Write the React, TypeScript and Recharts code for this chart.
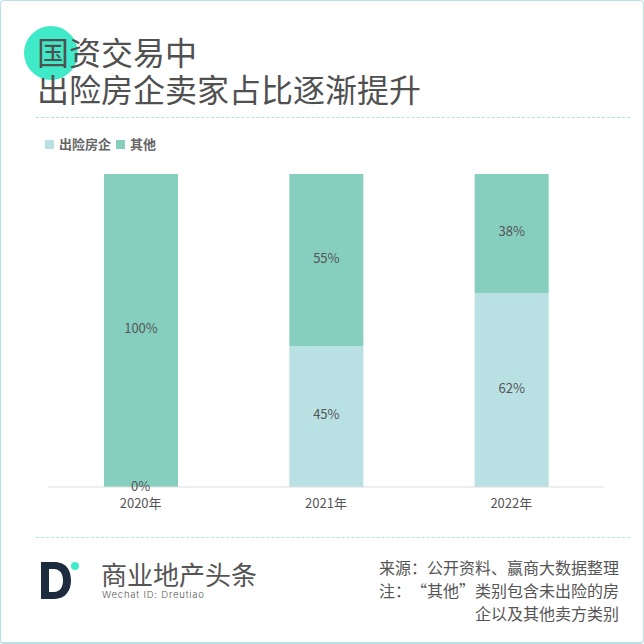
import { BarChart, Bar, XAxis, YAxis, Legend, LabelList, ReferenceDot } from 'recharts';

const years = ['2020年', '2021年', '2022年'];
const riskValues = [0, 45, 62];
const otherValues = [100, 55, 38];
const titleLines = ['国资交易中', '出险房企卖家占比逐渐提升'];
const noteLines = ['来源：公开资料、赢商大数据整理', '注：“其他”类别包含未出险的房', '企以及其他卖方类别'];

const data = years.map((year, i) => ({ year, risk: riskValues[i], other: otherValues[i] }));

const CJK = '"Noto Sans CJK SC", sans-serif';
const RISK_COLOR = '#b9e0e3';
const OTHER_COLOR = '#86cfbe';
const labelStyle = { fontSize: 13, fill: '#555', fontFamily: CJK };

function LegendRow({ payload }: any) {
  return (
    <div style={{ display: 'flex', alignItems: 'center', fontFamily: CJK, fontSize: 13, fontWeight: 700, color: '#666', lineHeight: '14px' }}>
      {(payload || []).map((p: any) => (
        <span key={p.value} style={{ display: 'flex', alignItems: 'center', marginRight: 5 }}>
          <span style={{ width: 9, height: 9, background: p.color, marginRight: 5 }} />
          {p.value}
        </span>
      ))}
    </div>
  );
}

function Dash({ top }: { top: number }) {
  return <div style={{ position: 'absolute', left: 36, width: 594, top, borderTop: '1px dashed #aee5df' }} />;
}

export default function App() {
  return (
    <div lang="zh-CN" style={{ position: 'absolute', left: 0, top: 0, width: 644, height: 644, background: '#fff', overflow: 'hidden', fontFamily: CJK }}>
      <div style={{ position: 'absolute', left: 0, top: 0, width: 644, height: 644, boxSizing: 'border-box', border: '1px solid #b8e2e4', borderBottomWidth: 2, borderRadius: 4 }} />
      <div style={{ position: 'absolute', left: 24, top: 26, width: 54, height: 54, borderRadius: '50%', background: '#40eac8' }} />
      <div style={{ position: 'absolute', left: 37, top: 33, fontSize: 32, lineHeight: '36.5px', color: '#505050', whiteSpace: 'nowrap' }}>
        {titleLines.map((t) => <div key={t}>{t}</div>)}
      </div>
      <Dash top={117} />
      <div style={{ position: 'absolute', left: 0, top: 0 }}>
        <BarChart width={644} height={644} data={data} margin={{ top: 174, left: 48, right: 40, bottom: 113 }}>
          <XAxis dataKey="year" tickLine={false} axisLine={{ stroke: '#dddddd' }} tick={{ fontSize: 13, fill: '#555', fontFamily: CJK }} tickMargin={6} height={30} />
          <YAxis hide domain={[0, 100]} />
          <Legend content={<LegendRow />} itemSorter={null} wrapperStyle={{ left: 45, top: 137, width: 200, bottom: 'auto' }} />
          <Bar dataKey="risk" name="出险房企" stackId="a" fill={RISK_COLOR} barSize={74} isAnimationActive={false}>
            <LabelList dataKey="risk" position="center" dy={-2} formatter={(v: any) => `${v}%`} style={labelStyle} />
          </Bar>
          <Bar dataKey="other" name="其他" stackId="a" fill={OTHER_COLOR} barSize={74} isAnimationActive={false}>
            <LabelList dataKey="other" position="center" dy={-2} formatter={(v: any) => `${v}%`} style={labelStyle} />
          </Bar>
          <ReferenceDot x={years[0]} y={riskValues[0]} r={0} stroke="none" fill="none" label={{ value: `${riskValues[0]}%`, position: 'center', dy: -1, style: labelStyle }} />
        </BarChart>
      </div>
      <Dash top={537} />
      <svg style={{ position: 'absolute', left: 40, top: 561 }} width={42} height={40}>
        <path fillRule="evenodd" fill="#1d2b3f" d="M1 1 H14 C27 1 31 10 31 19.5 C31 29 26 38 14 38 H1 Z M9 8 V31 H14 C20 31 23 26 23 19.5 C23 13 20 8 14 8 Z" />
        <circle cx={35} cy={5} r={4} fill="#40eac8" />
      </svg>
      <div style={{ position: 'absolute', left: 101, top: 557, fontSize: 26, lineHeight: '34px', color: '#555', whiteSpace: 'nowrap' }}>商业地产头条</div>
      <div style={{ position: 'absolute', left: 102, top: 589, fontSize: 9.5, lineHeight: '12px', letterSpacing: 0.8, color: '#555', fontFamily: 'Inter, sans-serif', fontWeight: 300, whiteSpace: 'nowrap' }}>Wechat ID: Dreutiao</div>
      <div style={{ position: 'absolute', right: 25, top: 556, textAlign: 'right', fontSize: 16, lineHeight: '23px', color: '#555', whiteSpace: 'nowrap', textSpacingTrim: 'space-all' } as any}>
        {noteLines.map((t) => <div key={t}>{t}</div>)}
      </div>
    </div>
  );
}
